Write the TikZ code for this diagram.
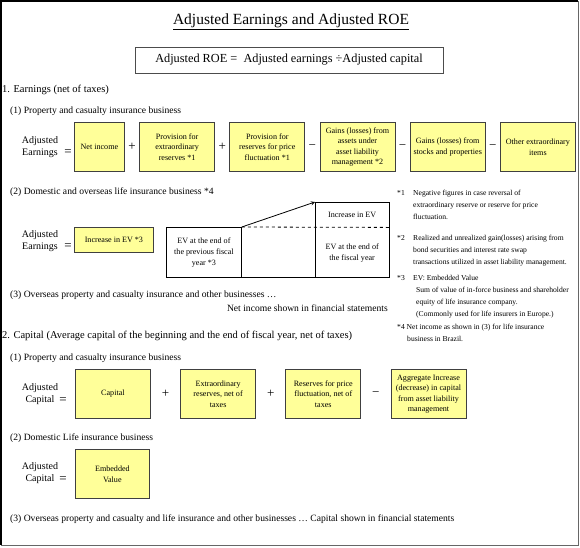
\documentclass[tikz,border=0pt]{standalone}
\usepackage{fontspec}
\setmainfont{Liberation Serif}
\usetikzlibrary{arrows, positioning}
\definecolor{boxfill}{HTML}{FFFF99}

\begin{document}
\begin{tikzpicture}[x=1pt, y=-1pt,
    node distance=0pt,
    item/.style={draw=black!75, fill=boxfill, line width=0.8pt, minimum width=75pt, minimum height=49pt, align=center, inner sep=1pt, font=\fontsize{8.1}{10.5}\selectfont},
    evbox/.style={minimum width=74pt, align=center, inner sep=1pt, font=\fontsize{8.1}{11}\selectfont},
    op/.style={minimum width=14pt, inner sep=0pt, font=\fontsize{13}{13}\selectfont},
    lbl/.style={align=center, inner sep=0pt, font=\fontsize{10}{12}\selectfont},
    hd/.style={anchor=west, inner sep=0pt, font=\fontsize{9.6}{11}\selectfont},
    note/.style={anchor=north west, inner sep=0pt, align=left, font=\fontsize{7.6}{12}\selectfont},
    arrow/.style={draw, thick, ->, >=stealth}
]
    \useasboundingbox (0,0) rectangle (580,547);
    % frame
    \draw[black!60, line width=1pt] (1,1) rectangle (578,545);
    \draw[line width=1.5pt] (1,545) -- (1,1) -- (578,1);

    % title and formula
    \node[font=\fontsize{15.5}{17}\selectfont] (title) at (291,22) {\underline{Adjusted Earnings and Adjusted ROE}};
    \node[draw=black!70, line width=0.8pt, minimum width=308pt, minimum height=26pt, font=\fontsize{12.3}{14}\selectfont] (roe) at (289,60) {Adjusted ROE =\ \ Adjusted earnings ÷Adjusted capital};

    % 1. earnings
    \node[hd, font=\fontsize{10.5}{12}\selectfont] (sec1) at (2,90) {1. Earnings (net of taxes)};
    \node[hd] (sub11) at (10,111) {(1) Property and casualty insurance business};
    \node[lbl] (lblA) at (40,147) {Adjusted\\Earnings};
    \node[op] (eqA) at (68,153) {=};
    \node[item, minimum width=50pt, anchor=west] (ni) at (74,147) {Net income};
    \node[op, right=of ni] (p1) {+};
    \node[item, right=of p1] (pxr) {Provision for\\extraordinary\\reserves *1};
    \node[op, right=of pxr] (p2) {+};
    \node[item, right=of p2] (ppf) {Provision for\\reserves for price\\fluctuation *1};
    \node[op, right=of ppf] (m1) {−};
    \node[item, right=of m1] (galm) {Gains (losses) from\\assets under\\asset liability\\management *2};
    \node[op, right=of galm] (m2) {−};
    \node[item, right=of m2] (gsp) {Gains (losses) from\\stocks and properties};
    \node[op, right=of gsp] (m3) {−};
    \node[item, right=of m3] (oei) {Other extraordinary\\items};

    \node[hd] (sub12) at (10,192) {(2) Domestic and overseas life insurance business *4};
    \node[lbl] (lblB) at (40,241) {Adjusted\\Earnings};
    \node[op] (eqB) at (68,247) {=};
    \node[item, minimum width=79pt, minimum height=25pt, anchor=west] (iev) at (74,240) {Increase in EV *3};
    \node[evbox, draw, line width=0.8pt, minimum width=75pt, minimum height=50pt, anchor=north west] (evp) at (166,227) {EV at the end of\\the previous fiscal\\year *3};
    \node[evbox, minimum height=25pt, anchor=north west] (evi) at (315,202) {Increase in EV};
    \node[evbox, minimum height=50pt, below=of evi] (evc) {EV at the end of\\the fiscal year};
    \draw[line width=0.8pt] (evi.north west) rectangle (evc.south east);
    \draw[line width=0.8pt] (evp.south east) -- (evc.south west);
    \draw[line width=0.8pt, dashed] (evp.north east) -- (evc.north east);
    \draw[arrow] (evp.north east) -- (evi.north west);

    \node[hd] (sub13) at (10,295) {(3) Overseas property and casualty insurance and other businesses …};
    \node[hd, anchor=east] (ni3) at (388,308) {Net income shown in financial statements};

    % footnotes
    \node[note] (k1) at (397,190) {*1};
    \node[note] (n1) at (413,190) {Negative figures in case reversal of\\extraordinary reserve or reserve for price\\fluctuation.};
    \node[note] (k2) at (397,235) {*2};
    \node[note] (n2) at (413,235) {Realized and unrealized gain(losses) arising from\\bond securities and interest rate swap\\transactions utilized in asset liability management.};
    \node[note] (k3) at (397,275) {*3};
    \node[note] (n3) at (413,275) {EV: Embedded Value\\\hspace*{3pt}Sum of value of in-force business and shareholder\\\hspace*{3pt}equity of life insurance company.\\\hspace*{3pt}(Commonly used for life insurers in Europe.)};
    \node[note] (n4) at (397,324) {*4 Net income as shown in (3) for life insurance\\\hspace*{10pt}business in Brazil.};

    % 2. capital
    \node[hd, font=\fontsize{10.5}{12}\selectfont] (sec2) at (2,336) {2. Capital (Average capital of the beginning and the end of fiscal year, net of taxes)};
    \node[hd] (sub21) at (10,358) {(1) Property and casualty insurance business};
    \node[lbl] (lblC) at (40,394) {Adjusted\\Capital};
    \node[op] (eqC) at (63,401) {=};
    \node[item, anchor=west] (cap) at (75,394) {Capital};
    \node[op, minimum width=29pt, right=of cap] (p3) {+};
    \node[item, right=of p3] (exr) {Extraordinary\\reserves, net of\\taxes};
    \node[op, minimum width=29pt, right=of exr] (p4) {+};
    \node[item, right=of p4] (rpf) {Reserves for price\\fluctuation, net of\\taxes};
    \node[op, minimum width=29pt, right=of rpf] (m4) {−};
    \node[item, right=of m4] (aic) {Aggregate Increase\\(decrease) in capital\\from asset liability\\management};

    \node[hd] (sub22) at (10,438) {(2) Domestic Life insurance business};
    \node[lbl] (lblD) at (40,473) {Adjusted\\Capital};
    \node[op] (eqD) at (63,480) {=};
    \node[item, minimum width=74pt, anchor=west] (emv) at (75,474) {Embedded\\Value};
    \node[hd] (sub23) at (10,519) {(3) Overseas property and casualty and life insurance and other businesses … Capital shown in financial statements};
\end{tikzpicture}
\end{document}
